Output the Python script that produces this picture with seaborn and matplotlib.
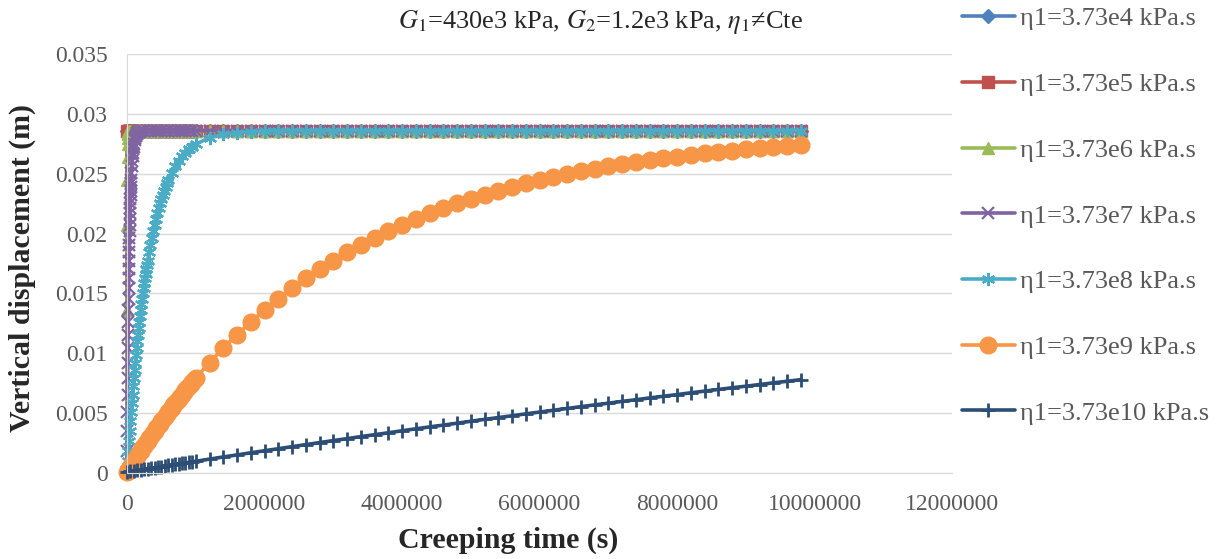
import matplotlib
matplotlib.use("Agg")
import matplotlib.pyplot as plt
import pandas as pd
import seaborn as sns
from matplotlib.ticker import FuncFormatter, MultipleLocator

# ---- data (time in s, displacement in m) ----
PLATEAU = 0.0286

T_START = [0, 2000, 10000, 20000, 30000, 40000]
T_FINE = [0, 2000, 4000, 6000, 8000, 10000, 12000, 14000, 16000, 18000, 20000, 30000, 40000]
T_50K = [0, 50000, 100000, 150000, 200000, 250000, 300000, 350000, 400000, 450000, 500000,
         550000, 600000, 650000, 700000, 750000, 800000, 850000, 900000, 950000, 1000000]
T_25K = [0, 25000, 50000, 75000, 100000, 125000, 150000, 175000, 200000, 225000, 250000,
         275000, 300000, 325000, 350000, 375000, 400000, 425000, 450000, 475000, 500000,
         525000, 550000, 575000, 600000, 625000, 650000, 675000, 700000, 725000, 750000,
         775000, 800000, 825000, 850000, 875000, 900000, 925000, 950000, 975000, 1000000]
T_LATE = [1200000, 1400000, 1600000, 1800000, 2000000, 2200000, 2400000, 2600000, 2800000,
          3000000, 3200000, 3400000, 3600000, 3800000, 4000000, 4200000, 4400000, 4600000,
          4800000, 5000000, 5200000, 5400000, 5600000, 5800000, 6000000, 6200000, 6400000,
          6600000, 6800000, 7000000, 7200000, 7400000, 7600000, 7800000, 8000000, 8200000,
          8400000, 8600000, 8800000, 9000000, 9200000, 9400000, 9600000, 9800000]

T_PURPLE = [0, 2000, 4000, 6000, 8000, 10000, 12000, 14000, 16000, 18000, 20000, 22000, 24000,
            26000, 28000, 30000, 32000, 34000, 36000, 38000, 40000, 42000, 44000, 46000, 48000,
            50000, 52000, 54000, 56000, 58000, 60000, 65000, 70000, 75000, 80000, 85000, 90000,
            95000, 100000, 110000, 120000, 130000, 140000, 150000, 170000, 200000]
T_CYAN = [0, 10000, 20000, 30000, 40000, 50000, 60000, 70000, 80000, 90000, 100000, 110000,
          120000, 130000, 140000, 150000, 160000, 170000, 180000, 190000, 200000, 210000,
          220000, 230000, 240000, 250000, 260000, 270000, 280000, 290000, 300000, 320000,
          340000, 360000, 380000, 400000, 420000, 440000, 460000, 480000, 500000, 520000,
          540000, 560000, 580000, 600000, 650000, 700000, 750000, 800000, 850000, 900000,
          950000, 1000000]

BLUE_RISE = [0.00008]
RED_RISE = [0.00008, 0.02856]
GREEN_RISE = [0.00008, 0.01362, 0.02073, 0.02447, 0.02643, 0.02747, 0.02801, 0.02829,
              0.02844, 0.02852, 0.02856]
PURPLE_RISE = [0.00008, 0.00186, 0.00353, 0.00509, 0.00655, 0.00793, 0.00922, 0.01043,
               0.01156, 0.01262, 0.01362, 0.01455, 0.01543, 0.01625, 0.01702, 0.01774,
               0.01842, 0.01905, 0.01965, 0.02021, 0.02073, 0.02122, 0.02168, 0.02212,
               0.02252, 0.02290, 0.02326, 0.02359, 0.02390, 0.02420, 0.02447, 0.02509,
               0.02561, 0.02606, 0.02644, 0.02676, 0.02703, 0.02727, 0.02747, 0.02778,
               0.02801, 0.02817, 0.02829, 0.02838, 0.02849, 0.02856]
CYAN_RISE = [0.00008, 0.00098, 0.00186, 0.00271, 0.00353, 0.00432, 0.00509, 0.00583,
             0.00655, 0.00725, 0.00793, 0.00858, 0.00922, 0.00983, 0.01043, 0.01100,
             0.01156, 0.01210, 0.01262, 0.01313, 0.01362, 0.01409, 0.01455, 0.01500,
             0.01543, 0.01585, 0.01625, 0.01664, 0.01702, 0.01739, 0.01774, 0.01842,
             0.01905, 0.01965, 0.02021, 0.02073, 0.02122, 0.02168, 0.02212, 0.02252,
             0.02290, 0.02326, 0.02359, 0.02390, 0.02420, 0.02447, 0.02509, 0.02561,
             0.02606, 0.02644, 0.02676, 0.02703, 0.02727, 0.02747, 0.02801, 0.02829,
             0.02844, 0.02852, 0.02856, 0.02859]
ORANGE_U = [0.00008, 0.00031, 0.00054, 0.00076, 0.00098, 0.00120, 0.00142, 0.00164, 0.00186,
            0.00207, 0.00229, 0.00250, 0.00271, 0.00291, 0.00312, 0.00332, 0.00353, 0.00373,
            0.00393, 0.00412, 0.00432, 0.00451, 0.00471, 0.00490, 0.00509, 0.00528, 0.00546,
            0.00565, 0.00583, 0.00602, 0.00620, 0.00638, 0.00655, 0.00673, 0.00691, 0.00708,
            0.00725, 0.00742, 0.00759, 0.00776, 0.00793,
            0.00922, 0.01043, 0.01156, 0.01262, 0.01362, 0.01455, 0.01543, 0.01625, 0.01702,
            0.01774, 0.01842, 0.01905, 0.01965, 0.02021, 0.02073, 0.02122, 0.02168, 0.02212,
            0.02252, 0.02290, 0.02326, 0.02359, 0.02390, 0.02420, 0.02447, 0.02473, 0.02497,
            0.02520, 0.02541, 0.02561, 0.02580, 0.02597, 0.02614, 0.02629, 0.02643, 0.02657,
            0.02670, 0.02682, 0.02693, 0.02703, 0.02713, 0.02722, 0.02731, 0.02739]
NAVY_U = [0.00008, 0.00013, 0.00017, 0.00022, 0.00026, 0.00031, 0.00035, 0.00040, 0.00044,
          0.00049, 0.00054, 0.00058, 0.00063, 0.00067, 0.00072, 0.00076, 0.00080, 0.00085,
          0.00089, 0.00094, 0.00098,
          0.00116, 0.00134, 0.00151, 0.00169, 0.00186, 0.00203, 0.00220, 0.00237, 0.00254,
          0.00271, 0.00287, 0.00304, 0.00320, 0.00336, 0.00353, 0.00369, 0.00385, 0.00400,
          0.00416, 0.00432, 0.00448, 0.00463, 0.00478, 0.00494, 0.00509, 0.00524, 0.00539,
          0.00554, 0.00569, 0.00583, 0.00598, 0.00612, 0.00627, 0.00641, 0.00655, 0.00670,
          0.00684, 0.00698, 0.00712, 0.00725, 0.00739, 0.00753, 0.00766, 0.00780]

LABELS = ["η1=3.73e4 kPa.s", "η1=3.73e5 kPa.s", "η1=3.73e6 kPa.s", "η1=3.73e7 kPa.s",
          "η1=3.73e8 kPa.s", "η1=3.73e9 kPa.s", "η1=3.73e10 kPa.s"]
COLORS = ["#4F81BD", "#C0504D", "#9BBB59", "#8064A2", "#4BACC6", "#F79646", "#2C4D75"]


def with_plateau(t, rise):
    return rise + [PLATEAU] * (len(t) - len(rise))


top_t = T_START + T_50K[1:] + T_LATE
green_t = T_FINE + T_50K[1:] + T_LATE
purple_t = T_PURPLE + T_50K[5:] + T_LATE
cyan_t = T_CYAN + T_LATE
orange_t = T_25K + T_LATE
navy_t = T_50K + T_LATE

series = [
    (top_t, with_plateau(top_t, BLUE_RISE), "D", 7, 1.0),
    (top_t, with_plateau(top_t, RED_RISE), "s", 8.5, 1.0),
    (green_t, with_plateau(green_t, GREEN_RISE), "^", 9, 1.0),
    (purple_t, with_plateau(purple_t, PURPLE_RISE), "x", 8, 1.6),
    (cyan_t, with_plateau(cyan_t, CYAN_RISE), (6, 2, 0), 9.5, 1.6),
    (orange_t, ORANGE_U, "o", 12, 1.0),
    (navy_t, NAVY_U, "+", 10, 2.0),
]

sns.set_style("white")
plt.rcParams["font.family"] = ["Liberation Serif", "DejaVu Serif"]
plt.rcParams["mathtext.fontset"] = "stix"

fig = plt.figure(figsize=(12.24, 5.59), dpi=100)
ax = fig.add_axes([127 / 1224, 1 - 473 / 559, 825 / 1224, 419 / 559])

for (t, u, mk, ms, mew), lab, col in zip(series, LABELS, COLORS):
    df = pd.DataFrame({"t": t, "u": u})
    sns.lineplot(data=df, x="t", y="u", ax=ax, sort=False, estimator=None,
                 color=col, lw=2.6, marker=mk, markersize=ms, mew=mew,
                 mec=col, mfc=col, clip_on=False, label=lab)

ax.set_xlim(0, 12000000)
ax.set_ylim(0, 0.035)
ax.xaxis.set_major_locator(MultipleLocator(2000000))
ax.yaxis.set_major_locator(MultipleLocator(0.005))
ax.xaxis.set_major_formatter(FuncFormatter(lambda v, p: f"{v:.0f}"))
ax.yaxis.set_major_formatter(FuncFormatter(lambda v, p: f"{v:.3f}".rstrip("0").rstrip(".")))
ax.grid(axis="y", color="#D9D9D9", lw=1)
ax.grid(axis="x", visible=False)
ax.set_axisbelow(True)
for s in ["top", "right"]:
    ax.spines[s].set_visible(False)
for s in ["left", "bottom"]:
    ax.spines[s].set_color("#D9D9D9")
ax.tick_params(length=0, labelsize=17, colors="#595959")
ax.tick_params(axis="y", pad=14)
ax.tick_params(axis="x", pad=15)
ax.set_xlabel("")
ax.set_ylabel("")

fig.text(600 / 1224, 1 - 22 / 559,
         r"$G_{\mathit{1}}$=430e3 kPa, $G_2$=1.2e3 kPa, $\eta_{\mathit{1}}$≠Cte",
         ha="center", va="center", fontsize=19)
fig.text(508 / 1224, 1 - 540 / 559, "Creeping time (s)", ha="center", va="center",
         fontsize=21.5, fontweight="bold")
fig.text(22 / 1224, 1 - 268 / 559, "Vertical displacement (m)", ha="center", va="center",
         rotation=90, fontsize=21.5, fontweight="bold")

handles, labels = ax.get_legend_handles_labels()
ax.legend_.remove()
leg = fig.legend(handles, labels, loc="upper left", bbox_to_anchor=(962 / 1224, 1 - 7 / 559),
                 frameon=False, fontsize=19, labelspacing=1.6, handlelength=2.0,
                 handletextpad=0.2, borderpad=0, borderaxespad=0)
for txt in leg.get_texts():
    txt.set_color("#595959")

fig.savefig("out.png", dpi=100)
